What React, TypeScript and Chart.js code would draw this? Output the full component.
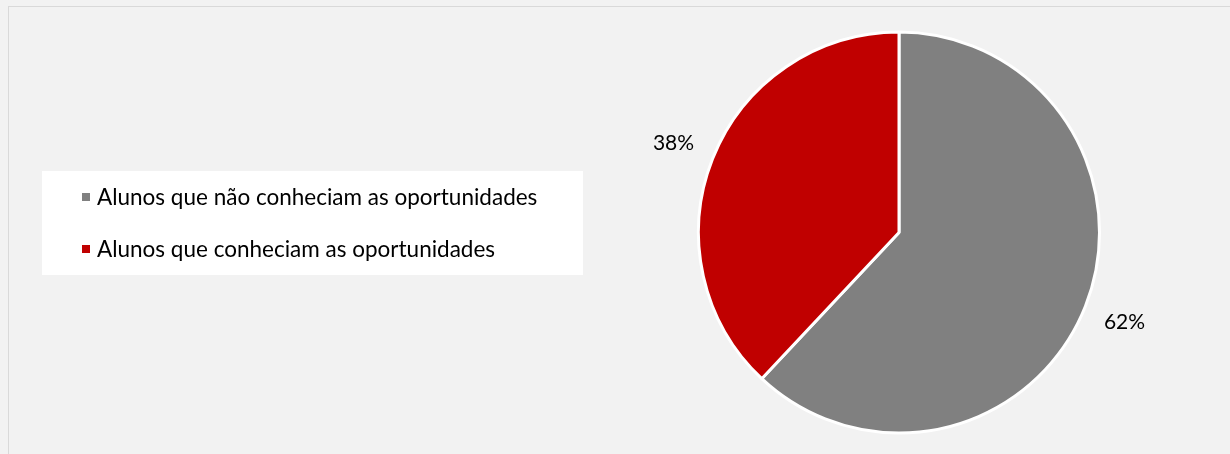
import React, { useEffect, useRef } from "react";
import { Chart, registerables } from "chart.js";

Chart.register(...registerables);

const categories = [
  "Alunos que não conheciam as oportunidades",
  "Alunos que conheciam as oportunidades",
];
const values = [62, 38];
const valueLabels = ["62%", "38%"];
const colors = ["#808080", "#C00000"];

const FONT = "Lato, Carlito, 'Noto Sans', sans-serif";

const framePlugin = {
  id: "frame",
  beforeDraw(chart: any) {
    const { ctx, width, height } = chart;
    ctx.save();
    ctx.fillStyle = "#F2F2F2";
    ctx.fillRect(0, 0, width, height);
    ctx.strokeStyle = "#D9D9D9";
    ctx.lineWidth = 1;
    ctx.strokeRect(8.5, 6.5, width + 10, height + 10);
    ctx.restore();
  },
  afterDraw(chart: any) {
    const { ctx } = chart;
    ctx.save();
    // legend box
    ctx.fillStyle = "#FFFFFF";
    ctx.fillRect(42, 171, 541, 104);
    ctx.font = `22.5px ${FONT}`;
    ctx.textBaseline = "middle";
    ctx.textAlign = "left";
    categories.forEach((c, i) => {
      const y = 197 + i * 52;
      ctx.fillStyle = colors[i];
      ctx.fillRect(82, y - 4, 8, 8);
      ctx.fillStyle = "#000000";
      ctx.fillText(c, 97, y + 1);
    });
    // data labels
    const meta = chart.getDatasetMeta(0);
    ctx.font = `21px ${FONT}`;
    ctx.textAlign = "center";
    meta.data.forEach((arc: any, i: number) => {
      const mid = (arc.startAngle + arc.endAngle) / 2;
      const r = arc.outerRadius + 42;
      const x = arc.x + Math.cos(mid) * r;
      const y = arc.y + Math.sin(mid) * r;
      ctx.fillStyle = "#000000";
      ctx.fillText(valueLabels[i], x, y);
    });
    ctx.restore();
  },
};

export default function App() {
  const ref = useRef<HTMLCanvasElement | null>(null);
  useEffect(() => {
    document.body.style.margin = "0";
    const chart = new Chart(ref.current as HTMLCanvasElement, {
      type: "pie",
      data: {
        labels: categories,
        datasets: [
          {
            data: values,
            backgroundColor: colors,
            borderColor: "#FFFFFF",
            borderWidth: 3,
          },
        ],
      },
      options: {
        animation: false,
        responsive: false,
        maintainAspectRatio: false,
        layout: { padding: { left: 697, right: 129, top: 30.5, bottom: 19.5 } },
        plugins: {
          legend: { display: false },
          tooltip: { enabled: false },
        },
      },
      plugins: [framePlugin],
    });
    return () => chart.destroy();
  }, []);
  return (
    <div style={{ position: "absolute", left: 0, top: 0, width: 1230, height: 454 }}>
      <canvas ref={ref} width={1230} height={454} style={{ width: 1230, height: 454 }} />
    </div>
  );
}
